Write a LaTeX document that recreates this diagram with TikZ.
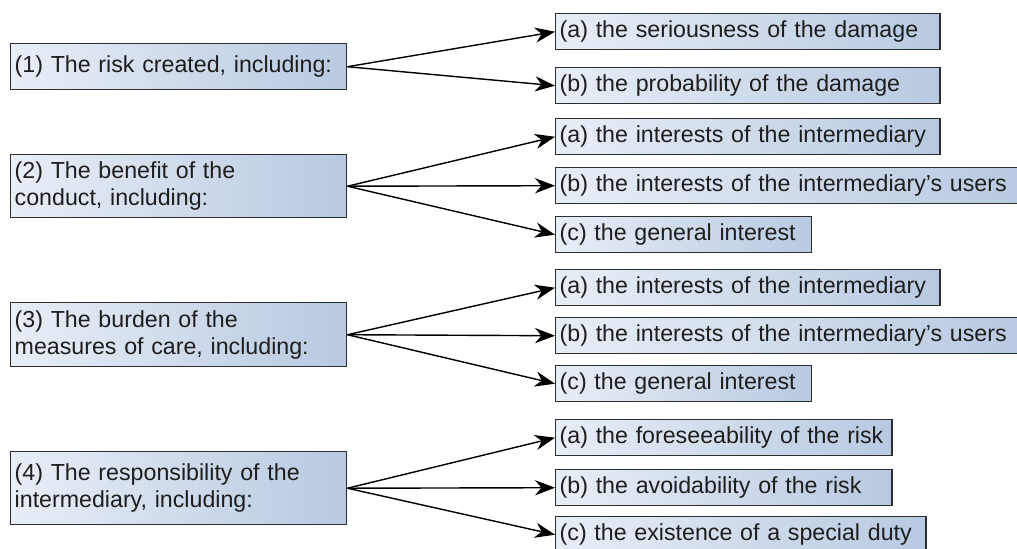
\documentclass[tikz,border=0pt]{standalone}
\usepackage{fontspec}
\setmainfont{Liberation Sans}
\usepackage{tikz}
\usetikzlibrary{arrows.meta}
\definecolor{boxlight}{HTML}{E8EEF6}
\definecolor{boxdark}{HTML}{B8C9E1}
\definecolor{boxline}{HTML}{2E2E2E}
\definecolor{inktext}{HTML}{1E1E1E}
\tikzset{
    mainbox/.style={
        draw=boxline, line width=1pt, left color=boxlight, right color=boxdark,
        anchor=north west, align=left, text width=#1, inner xsep=0.1cm, inner ysep=0pt,
        text=inktext, font=\fontsize{16.5}{19.2}\selectfont
    },
    subbox/.style={
        mainbox=#1, minimum height=0.9cm
    },
    link/.style={
        draw=black, line width=1pt,
        -{Stealth[length=0.5cm, width=0.38cm, inset=0.16cm]}
    },
}

\begin{document}
\begin{tikzpicture}[x=0.025cm, y=-0.025cm]
\useasboundingbox (0,0) rectangle (1017,548);
\clip (0,0) rectangle (1017,548);

% left column
\node[mainbox=8.2cm, minimum height=1.15cm] (risk) at (10,43) {(1) The risk created, including:};
\node[mainbox=8.2cm, minimum height=1.575cm] (benefit) at (10,154) {(2) The benefit of the\\conduct, including:};
\node[mainbox=8.2cm, minimum height=1.6cm] (burden) at (10,302) {(3) The burden of the\\measures of care, including:};
\node[mainbox=8.2cm, minimum height=1.825cm] (resp) at (10,451) {(4) The responsibility of the\\intermediary, including:};

% right column
\node[subbox=9.4cm] (riskA) at (555,13) {(a) the seriousness of the damage};
\node[subbox=9.4cm] (riskB) at (555,67) {(b) the probability of the damage};

\node[subbox=9.4cm] (benefitA) at (555,118) {(a) the interests of the intermediary};
\node[subbox=11.55cm] (benefitB) at (555,167) {(b) the interests of the intermediary's users};
\node[subbox=6.2cm] (benefitC) at (555,216) {(c) the general interest};

\node[subbox=9.4cm] (burdenA) at (555,269) {(a) the interests of the intermediary};
\node[subbox=11.55cm] (burdenB) at (555,317) {(b) the interests of the intermediary's users};
\node[subbox=6.2cm] (burdenC) at (555,365) {(c) the general interest};

\node[subbox=8.2cm] (respA) at (555,419) {(a) the foreseeability of the risk};
\node[subbox=8.2cm] (respB) at (555,469) {(b) the avoidability of the risk};
\node[subbox=9.05cm] (respC) at (555,516) {(c) the existence of a special duty};

% arrows
\draw[link] (risk.east) -- (riskA.west);
\draw[link] (risk.east) -- (riskB.west);

\draw[link] (benefit.east) -- (benefitA.west);
\draw[link] (benefit.east) -- (benefitB.west);
\draw[link] (benefit.east) -- (benefitC.west);

\draw[link] (burden.east) -- (burdenA.west);
\draw[link] (burden.east) -- (burdenB.west);
\draw[link] (burden.east) -- (burdenC.west);

\draw[link] (resp.east) -- (respA.west);
\draw[link] (resp.east) -- (respB.west);
\draw[link] (resp.east) -- (respC.west);
\end{tikzpicture}
\end{document}
